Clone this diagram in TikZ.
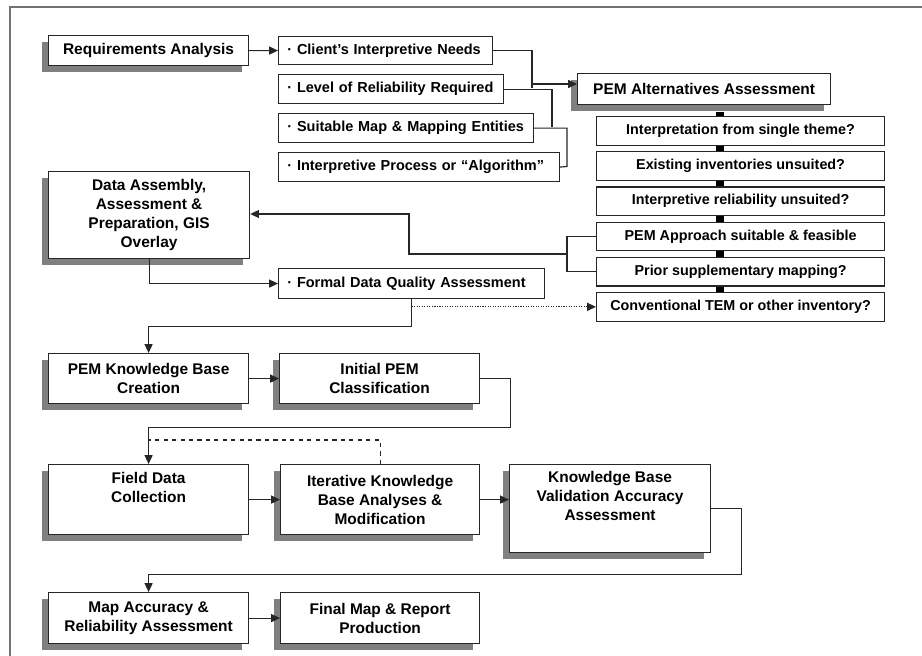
\documentclass[tikz,border=0pt]{standalone}
\usepackage{fontspec}
\setmainfont{Liberation Sans}
\usetikzlibrary{arrows.meta,shadows}

\tikzset{
  box/.style={draw=black!85, fill=white, line width=0.8pt, anchor=north west,
    align=center, inner sep=2pt, font=\bfseries\fontsize{11}{13.5}\selectfont},
  shbox/.style={box, drop shadow={shadow xshift=-0.17cm, shadow yshift=-0.17cm,
    fill=black!50, opacity=1}},
  item/.style={box, align=left, inner xsep=0.22cm,
    font=\bfseries\fontsize{10.3}{12}\selectfont},
  quest/.style={box, minimum width=7.2cm, minimum height=0.715cm,
    font=\bfseries\fontsize{10.2}{12}\selectfont},
  wire/.style={line width=0.8pt, black!85},
  arr/.style={wire, -{Triangle[length=2.2mm,width=2mm]}},
  stub/.style={line width=5pt, black},
}

\begin{document}
\begin{tikzpicture}[x=0.025cm, y=-0.025cm]
  \useasboundingbox (0,0) rectangle (922,656);
  %% Outer frame
  \draw[line width=1.1pt, black!55] (10,656) -- (10,7) -- (922,7);
  %% Requirements
  \node[shbox, minimum width=5cm, minimum height=0.75cm] (req) at (48,35) {Requirements Analysis};
  \node[item, text width=4.91cm, minimum height=0.7cm] (need) at (278,36) {· Client's Interpretive Needs};
  \node[item, text width=5.185cm, minimum height=0.725cm] (level) at (278,74) {· Level of Reliability Required};
  \node[item, text width=5.935cm, minimum height=0.725cm] (suit) at (278,113) {· Suitable Map \& Mapping Entities};
  \node[item, text width=6.585cm, minimum height=0.725cm] (proc) at (278,152) {· Interpretive Process or ``Algorithm''};
  %% PEM alternatives column
  \node[shbox, minimum width=6.325cm, minimum height=0.775cm] (alt) at (577,73) {PEM Alternatives Assessment};
  \foreach \n/\t [count=\i from 0] in {q1/Interpretation from single theme?,
      q2/Existing inventories unsuited?, q3/Interpretive reliability unsuited?,
      q4/PEM Approach suitable \& feasible, q5/Prior supplementary mapping?,
      q6/Conventional TEM or other inventory?}
    \node[quest] (\n) at (596,{116+35.2*\i}) {\t};
  %% Data
  \node[shbox, minimum width=5.025cm, minimum height=2.175cm] (da) at (48,171) {Data Assembly,\\Assessment \&\\Preparation, GIS\\Overlay};
  \node[item, text width=6.21cm, minimum height=0.75cm] (dqa) at (278,268) {· Formal Data Quality Assessment};
  %% Knowledge base
  \node[shbox, minimum width=5cm, minimum height=1.25cm] (kb) at (48,353) {PEM Knowledge Base\\Creation};
  \node[shbox, minimum width=5cm, minimum height=1.25cm] (ipc) at (279,353) {Initial PEM\\Classification};
  \node[shbox, minimum width=5cm, minimum height=1.75cm] (fdc) at (48,464) {Field Data\\Collection\\\strut};
  \node[shbox, minimum width=4.975cm, minimum height=1.75cm] (iter) at (280,464) {Iterative Knowledge\\Base Analyses \&\\Modification};
  \node[shbox, minimum width=5.025cm, minimum height=2.2cm] (kbv) at (509,464) {Knowledge Base\\Validation Accuracy\\Assessment\\\strut};
  \node[shbox, minimum width=5cm, minimum height=1.275cm] (ma) at (48,592) {Map Accuracy \&\\Reliability Assessment};
  \node[shbox, minimum width=4.975cm, minimum height=1.275cm] (final) at (280,592) {Final Map \& Report\\Production};

  %% Connectors
  \coordinate (m0) at (532,84);
  \coordinate (m1) at (532,88.5);
  \coordinate (m2) at (552,127.5);
  \coordinate (m3) at (567,166.5);
  \coordinate (m4) at (567,254);
  \coordinate (m5) at (409,214);
  \coordinate (col) at (720,0);
  \coordinate (m6) at (148,440);
  \draw[arr] (req) -- (need);
  \draw[wire] (need.east) -| (m1);
  \draw[wire] (level.east) -| (m2);
  \draw[wire] (suit.east) -| (m3) -- (proc.east);
  \draw[arr] (m0) -- (m0 -| alt.west);
  \draw[stub] (col |- alt.south) ++(0,7) -- (col |- q1.north);
  \foreach \a/\b in {q1/q2,q2/q3,q3/q4,q4/q5,q5/q6}
    \draw[stub] (col |- \a.south) -- (col |- \b.north);
  \draw[wire] (q4.west) -| (m4) |- (q5.west);
  \draw[arr] (m4) -| (m5) -- (m5 -| da.east);
  \draw[arr] (da.south) |- (dqa.west);
  \draw[wire, densely dotted, -{Triangle[length=2.2mm,width=2mm]}] (dqa.south |- q6.west) -- (q6.west);
  \draw[arr] (dqa.south) -- ++(0,27) -| (kb.north);
  \draw[arr] (kb) -- (ipc);
  \draw[arr] (ipc.east) -| ++(30,49) -| (fdc.north);
  \draw[wire, dashed] (iter.north) |- (m6);
  \draw[arr] (fdc.east |- iter.east) -- (iter.west);
  \draw[arr] (iter.east) -- (iter.east -| kbv.west);
  \draw[arr] (kbv.east) -| ++(30,66) -| (ma.north);
  \draw[arr] (ma) -- (final);
\end{tikzpicture}
\end{document}
